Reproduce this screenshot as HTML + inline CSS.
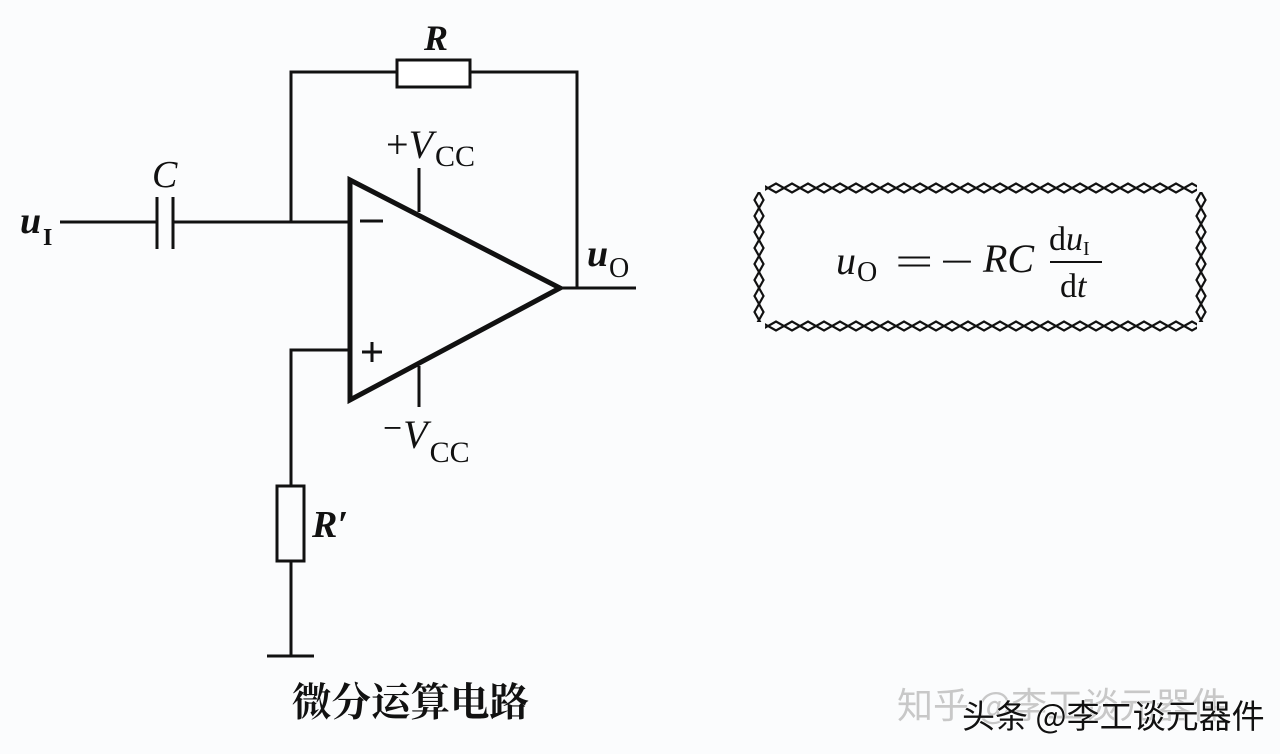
<!DOCTYPE html>
<html><head><meta charset="utf-8"><style>
html,body{margin:0;padding:0;background:#fbfcfd;}
svg{display:block}
.s{font-family:"Liberation Serif",serif;fill:#111}
</style></head><body>
<svg width="1280" height="754" viewBox="0 0 1280 754" xmlns="http://www.w3.org/2000/svg">
<defs>
<pattern id="ph" x="0" y="181" width="16" height="14" patternUnits="userSpaceOnUse">
<polygon points="0,7 8,2.5 16,7 8,11.5" fill="none" stroke="#111" stroke-width="2.2"/>
</pattern>
<pattern id="ph2" x="0" y="319" width="16" height="14" patternUnits="userSpaceOnUse">
<polygon points="0,7 8,2.5 16,7 8,11.5" fill="none" stroke="#111" stroke-width="2.2"/>
</pattern>
<pattern id="pv" x="752" y="0" width="14" height="16" patternUnits="userSpaceOnUse">
<polygon points="7,0 11.5,8 7,16 2.5,8" fill="none" stroke="#111" stroke-width="2.2"/>
</pattern>
<pattern id="pv2" x="1194" y="0" width="14" height="16" patternUnits="userSpaceOnUse">
<polygon points="7,0 11.5,8 7,16 2.5,8" fill="none" stroke="#111" stroke-width="2.2"/>
</pattern>
</defs>
<rect width="1280" height="754" fill="#fbfcfd"/>
<g stroke="#111" stroke-width="3" fill="none">
<polyline points="291,222 291,72 397,72"/>
<polyline points="470,72 577,72 577,288"/>
<rect x="397" y="60" width="73" height="27" fill="#fff"/>
<line x1="60" y1="222" x2="157" y2="222"/>
<line x1="173" y1="222" x2="350" y2="222"/>
<line x1="157" y1="197" x2="157" y2="249"/>
<line x1="173" y1="197" x2="173" y2="249"/>
<polygon points="350,180 350,400 560,288" stroke-width="5" stroke-linejoin="miter"/>
<line x1="560" y1="288" x2="636" y2="288"/>
<line x1="419" y1="168" x2="419" y2="212"/>
<line x1="419" y1="366" x2="419" y2="407"/>
<line x1="360" y1="221" x2="383" y2="221"/>
<line x1="362" y1="352" x2="382" y2="352"/>
<line x1="372" y1="342" x2="372" y2="362"/>
<polyline points="350,350 291,350 291,486"/>
<rect x="277" y="486" width="27" height="75"/>
<line x1="291" y1="561" x2="291" y2="656"/>
<line x1="267" y1="656" x2="314" y2="656"/>
</g>
<text class="s" x="424" y="50" font-size="36" font-style="italic" font-weight="bold">R</text>
<text class="s" x="152" y="187" font-size="38" font-style="italic">C</text>
<text class="s" x="20" y="233" font-size="38" font-style="italic" font-weight="bold">u</text>
<text class="s" x="43" y="245" font-size="24" font-weight="bold">I</text>
<text class="s" x="386" y="158" font-size="40">+<tspan font-style="italic">V</tspan><tspan font-size="30" dx="2" dy="8">CC</tspan></text>
<text class="s" x="382" y="448" font-size="40">⁻<tspan font-style="italic">V</tspan><tspan font-size="30" dx="2" dy="14">CC</tspan></text>
<text class="s" x="587" y="266" font-size="38" font-style="italic" font-weight="bold">u</text>
<text class="s" x="609" y="277" font-size="28">O</text>
<text class="s" x="312" y="537" font-size="38" font-style="italic" font-weight="bold">R′</text>
<text x="292" y="716" font-size="39.5" font-weight="bold" font-family="'Noto Serif CJK SC','Noto Sans CJK SC',serif" fill="#111">微分运算电路</text>
<rect x="765" y="181" width="432" height="14" fill="url(#ph)"/>
<rect x="765" y="319" width="432" height="14" fill="url(#ph2)"/>
<rect x="752" y="192" width="14" height="130" fill="url(#pv)"/>
<rect x="1194" y="192" width="14" height="130" fill="url(#pv2)"/>
<text class="s" x="836" y="274" font-size="40" font-style="italic">u</text>
<text class="s" x="857" y="281" font-size="28">O</text>
<text class="s" font-size="40" transform="translate(895,275) scale(1.7,1)">=</text>
<text class="s" font-size="40" transform="translate(940,275) scale(1.5,1)">−</text>
<text class="s" x="983" y="272" font-size="40" font-style="italic">RC</text>
<text class="s" x="1049" y="250" font-size="34">d<tspan font-style="italic">u</tspan><tspan font-size="20" dy="5">I</tspan></text>
<line x1="1050" y1="262" x2="1102" y2="262" stroke="#111" stroke-width="2"/>
<text class="s" x="1060" y="297" font-size="34">d<tspan font-style="italic">t</tspan></text>
<text x="897" y="718" font-size="36" font-family="'Noto Sans CJK SC',sans-serif" fill="#c8c8c8">知乎 @李工谈元器件</text>
<text x="962" y="728" font-size="33" font-family="'Noto Sans CJK SC',sans-serif" fill="#111" stroke="#fff" stroke-width="1" paint-order="stroke">头条 @李工谈元器件</text>
</svg>
</body></html>
